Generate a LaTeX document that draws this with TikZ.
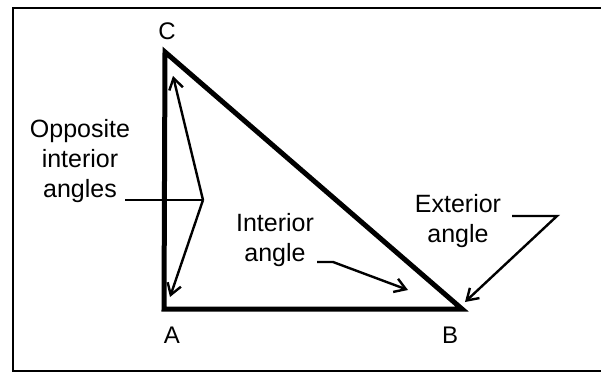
\documentclass[tikz,border=0pt]{standalone}
\usepackage{fontspec}
\setmainfont{Liberation Sans}
\usetikzlibrary{positioning, arrows.meta}

\begin{document}
\begin{tikzpicture}[
        x=1pt, y=-1pt,
        side/.style={line width=5pt, line join=miter},
        leader/.style={line width=2.4pt, line join=miter},
        pointer/.style={line width=2.4pt, line join=miter, -{Straight Barb[length=11pt, width=14pt]}},
        vlabel/.style={inner sep=0pt, font=\fontsize{24}{30}\selectfont},
        note/.style={inner sep=0pt, align=center, font=\fontsize{25}{30}\selectfont}
    ]
    \useasboundingbox (0,0) rectangle (601,382);

    % Frame (right side runs off the page)
    \draw[line width=2pt] (601,8) -- (13,8) -- (13,371) -- (601,371);

    % Triangle
    \coordinate (A) at (164,309);
    \coordinate (B) at (462,309);
    \coordinate (C) at (165,52);
    \draw[side] (C) -- (A) -- (B) -- cycle;

    % Vertex labels
    \node[vlabel] (labC) at (167,31) {C};
    \node[vlabel] (labA) at (172,335) {A};
    \node[vlabel] (labB) at (450,335) {B};

    % Notes
    \node[note] (oppo) at (80,161) {Opposite\\interior\\angles};
    \node[note] (inter) at (275,240) {Interior\\angle};
    \node[note] (exter) at (458,221) {Exterior\\angle};

    % Opposite interior angles
    \coordinate (oppoend) at (125,200);
    \coordinate (fork) at (203,200);
    \coordinate (tipC) at (173,76);
    \coordinate (tipA) at (170,297);
    \draw[leader] (oppoend) -- (fork);
    \draw[pointer] (fork) -- (tipC);
    \draw[pointer] (fork) -- (tipA);

    % Interior angle
    \coordinate (interend) at (317,262);
    \coordinate (interbend) at (333,262);
    \coordinate (tipIn) at (408,290);
    \draw[pointer] (interend) -- (interbend) -- (tipIn);

    % Exterior angle
    \coordinate (exterend) at (512,216);
    \coordinate (exterbend) at (557,216);
    \coordinate (tipEx) at (465,302);
    \draw[pointer] (exterend) -- (exterbend) -- (tipEx);

\end{tikzpicture}
\end{document}
